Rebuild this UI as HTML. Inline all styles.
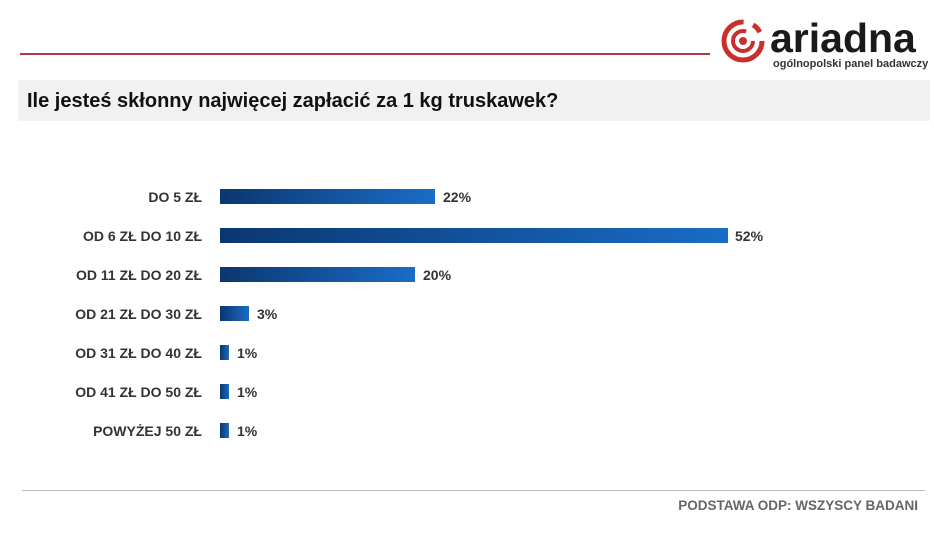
<!DOCTYPE html>
<html><head><meta charset="utf-8"><style>
body{margin:0;width:934px;height:546px;background:#fff;font-family:"Liberation Sans",sans-serif;position:relative;overflow:hidden}
.a{position:absolute}
.lbl{position:absolute;right:732px;font-weight:bold;font-size:14px;color:#333;white-space:nowrap;line-height:16px}
.bar{position:absolute;left:220px;height:15px;background:linear-gradient(90deg,#0b3770,#1a6cc6)}
.val{position:absolute;font-weight:bold;font-size:14px;color:#333;line-height:16px}
</style></head><body>
<div class="a" style="left:20px;top:53px;width:690px;height:2px;background:#b03a3a"></div>
<svg class="a" style="left:720px;top:18px" width="46" height="46" viewBox="0 0 46 46">
<circle cx="23" cy="23" r="19" fill="none" stroke="#c9302c" stroke-width="5" stroke-dasharray="90 10 10 10"/>
<circle cx="23" cy="23" r="10" fill="none" stroke="#c9302c" stroke-width="4" stroke-dasharray="50 13"/>
<circle cx="23" cy="23" r="4" fill="#c9302c"/>
</svg>
<div class="a" style="left:770px;top:16px;font-size:41px;font-weight:bold;color:#1a1a1a;letter-spacing:0px;line-height:44px;white-space:nowrap">ariadna</div>
<div class="a" style="left:773px;top:58px;font-size:11px;font-weight:bold;color:#333;white-space:nowrap">ogólnopolski panel badawczy</div>
<div class="a" style="left:18px;top:80px;width:912px;height:41px;background:#f1f1f1"></div>
<div class="a" style="left:27px;top:90px;font-size:20px;font-weight:bold;color:#111;white-space:nowrap">Ile jesteś skłonny najwięcej zapłacić za 1 kg truskawek?</div>

<div class="lbl" style="top:189px">DO 5 ZŁ</div>
<div class="bar" style="top:189px;width:215px"></div><div class="val" style="left:443px;top:189px">22%</div>
<div class="lbl" style="top:228px">OD 6 ZŁ DO 10 ZŁ</div>
<div class="bar" style="top:228px;width:508px"></div><div class="val" style="left:735px;top:228px">52%</div>
<div class="lbl" style="top:267px">OD 11 ZŁ DO 20 ZŁ</div>
<div class="bar" style="top:267px;width:195px"></div><div class="val" style="left:423px;top:267px">20%</div>
<div class="lbl" style="top:306px">OD 21 ZŁ DO 30 ZŁ</div>
<div class="bar" style="top:306px;width:29px"></div><div class="val" style="left:257px;top:306px">3%</div>
<div class="lbl" style="top:345px">OD 31 ZŁ DO 40 ZŁ</div>
<div class="bar" style="top:345px;width:9px"></div><div class="val" style="left:237px;top:345px">1%</div>
<div class="lbl" style="top:384px">OD 41 ZŁ DO 50 ZŁ</div>
<div class="bar" style="top:384px;width:9px"></div><div class="val" style="left:237px;top:384px">1%</div>
<div class="lbl" style="top:423px">POWYŻEJ 50 ZŁ</div>
<div class="bar" style="top:423px;width:9px"></div><div class="val" style="left:237px;top:423px">1%</div>

<div class="a" style="left:22px;top:490px;width:903px;height:1px;background:#bbb"></div>
<div class="a" style="right:16px;top:498px;font-size:13.5px;font-weight:bold;color:#666">PODSTAWA ODP: WSZYSCY BADANI</div>
</body></html>
